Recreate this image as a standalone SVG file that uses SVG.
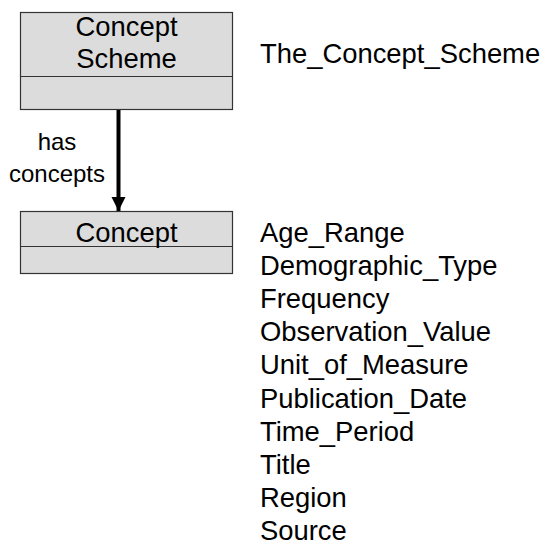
<svg xmlns="http://www.w3.org/2000/svg" width="545" height="545" viewBox="0 0 545 545">
  <style>
    .box { fill: #dcdcdc; stroke: #333333; stroke-width: 1.2; }
    .div { stroke: #333333; stroke-width: 1.2; }
    .t { font-family: "Liberation Sans", Arial, sans-serif; font-size: 27.4px; fill: #000000; }
    .lbl { font-family: "Liberation Sans", Arial, sans-serif; font-size: 24px; fill: #000000; }
    .mid { text-anchor: middle; }
  </style>
  <defs>
    <marker id="arrowhead" markerUnits="userSpaceOnUse" markerWidth="16" markerHeight="16" refX="14" refY="7" orient="auto">
      <path d="M0,0 L14,7 L0,14 Z" fill="#000000"/>
    </marker>
  </defs>

  <!-- connectors -->
  <g id="connectors">
    <line x1="118.5" y1="109" x2="118.5" y2="211" stroke="#000000" stroke-width="4" marker-end="url(#arrowhead)"/>
    <text class="lbl mid" x="57" y="150">has</text>
    <text class="lbl mid" x="57" y="182">concepts</text>
  </g>

  <!-- Concept Scheme class -->
  <g id="concept-scheme">
    <rect class="box" x="20.5" y="12.5" width="212" height="97"/>
    <line class="div" x1="20.5" y1="76.5" x2="232.5" y2="76.5"/>
    <text class="t mid" x="126.5" y="36">Concept</text>
    <text class="t mid" x="126.5" y="68">Scheme</text>
  </g>

  <!-- Concept class -->
  <g id="concept">
    <rect class="box" x="20.5" y="211.5" width="212" height="62"/>
    <line class="div" x1="20.5" y1="246.5" x2="232.5" y2="246.5"/>
    <text class="t mid" x="126.5" y="242">Concept</text>
  </g>

  <!-- instance names -->
  <g id="scheme-instance">
    <text class="t" x="260" y="63">The_Concept_Scheme</text>
  </g>
  <g id="concept-instances">
    <text class="t" x="260" y="242">Age_Range</text>
    <text class="t" x="260" y="275">Demographic_Type</text>
    <text class="t" x="260" y="308">Frequency</text>
    <text class="t" x="260" y="341">Observation_Value</text>
    <text class="t" x="260" y="374">Unit_of_Measure</text>
    <text class="t" x="260" y="408">Publication_Date</text>
    <text class="t" x="260" y="441">Time_Period</text>
    <text class="t" x="260" y="474">Title</text>
    <text class="t" x="260" y="507">Region</text>
    <text class="t" x="260" y="540">Source</text>
  </g>
</svg>
